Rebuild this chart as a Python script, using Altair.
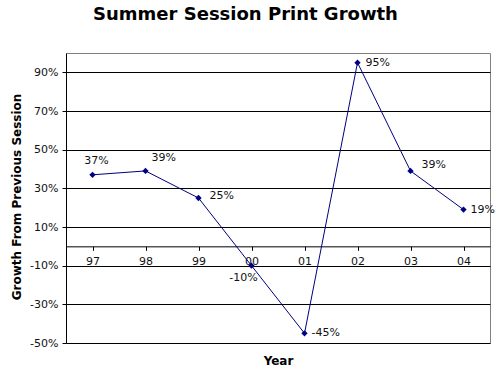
import altair as alt
import pandas as pd

years = ["97", "98", "99", "00", "01", "02", "03", "04"]
growth = [37, 39, 25, -10, -45, 95, 39, 19]
y_ticks = [-50, -30, -10, 10, 30, 50, 70, 90]

df = pd.DataFrame({"year": years, "growth": growth})
df["label"] = df["growth"].astype(str) + "%"

x_enc = alt.X(
    "year:N",
    sort=years,
    scale=alt.Scale(paddingInner=0, paddingOuter=0),
    axis=alt.Axis(
        title="Year",
        titleFont="DejaVu Sans",
        titleFontSize=12,
        titleFontWeight="bold",
        titleColor="black",
        titleBaseline="middle",
        titleY=114,
        offset=-96.67,
        labelAngle=0,
        labelFont="DejaVu Sans",
        labelFontSize=11,
        labelColor="#111",
        labelPadding=5,
        tickSize=4,
        tickColor="black",
        domainColor="black",
        bandPosition=0,
        grid=False,
    ),
)
y_enc = alt.Y(
    "growth:Q",
    scale=alt.Scale(domain=[-50, 100], nice=False, zero=False),
    axis=alt.Axis(
        values=y_ticks,
        labelExpr="datum.value + '%'",
        title="Growth From Previous Session",
        titleFont="DejaVu Sans",
        titleFontSize=12,
        titleFontWeight="bold",
        titleColor="black",
        titleX=-50,
        titleY=143.5,
        titleAlign="center",
        titleBaseline="middle",
        labelFont="DejaVu Sans",
        labelFontSize=11,
        labelColor="#111",
        labelPadding=4,
        tickSize=4,
        tickColor="black",
        domainColor="black",
        gridColor="black",
        gridOpacity=1,
        gridWidth=1,
    ),
)

base = alt.Chart(df)
line = base.mark_line(color="#000080", strokeWidth=1).encode(x=x_enc, y=y_enc)
pts = base.mark_point(shape="diamond", filled=True, color="#000080", size=40, opacity=1).encode(
    x=alt.X("year:N", sort=years), y="growth:Q"
)


def lab(year, dx, dy, align):
    return (
        base.transform_filter(alt.datum.year == year)
        .mark_text(font="DejaVu Sans", fontSize=11, color="#111", dx=dx, dy=dy, align=align, baseline="middle")
        .encode(x=alt.X("year:N", sort=years), y="growth:Q", text="label:N")
    )


labels = [
    lab("97", 4, -14, "center"),
    lab("98", 6, -13, "left"),
    lab("99", 11, -2, "left"),
    lab("00", -8, 12, "center"),
    lab("01", 7, 0, "left"),
    lab("02", 8, 0, "left"),
    lab("03", 11, -6, "left"),
    lab("04", 7, 0, "left"),
]

chart = (
    alt.layer(line, pts, *labels)
    .properties(
        width=424,
        height=290,
        autosize=alt.AutoSizeParams(type="none"),
        padding={"left": 66, "top": 53, "right": 9, "bottom": 33},
        title=alt.TitleParams(
            "Summer Session Print Growth",
            font="DejaVu Sans",
            fontSize=18,
            fontWeight="bold",
            color="black",
            anchor="middle",
            dx=-32.5,
            offset=29,
        ),
        background="white",
    )
    .configure_view(stroke="#808080", strokeWidth=1)
)

chart.save("out.html", embed_options={"renderer": "svg", "actions": False})
